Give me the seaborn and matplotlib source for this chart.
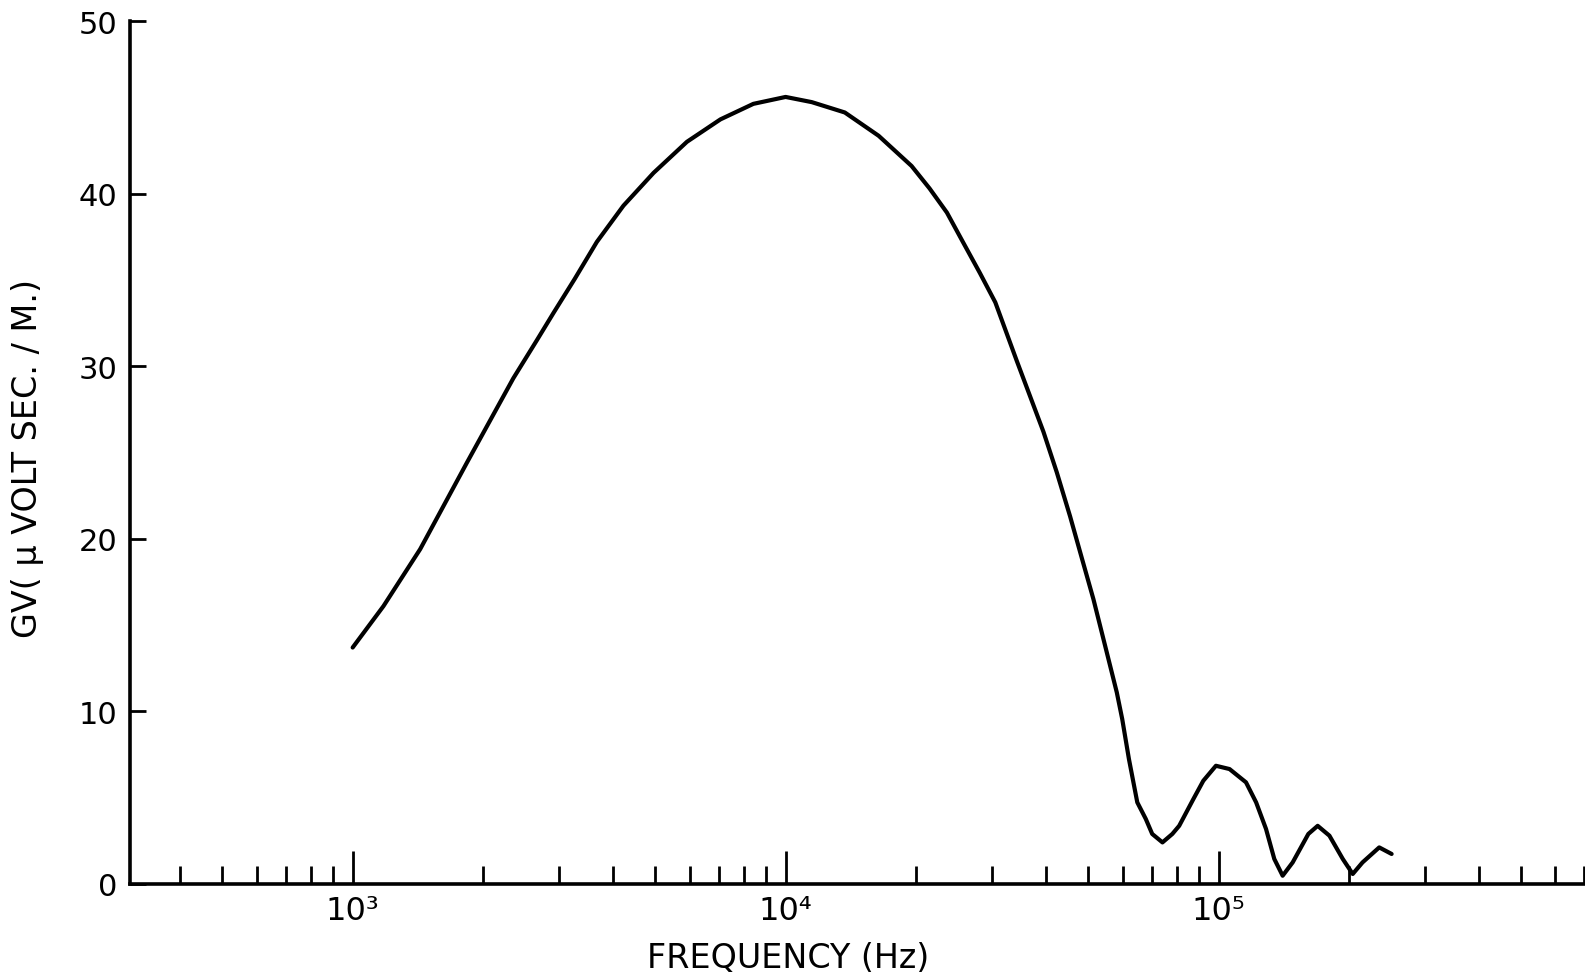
import matplotlib
matplotlib.use("Agg")
import matplotlib.pyplot as plt
import matplotlib.ticker as mticker
import seaborn as sns
import pandas as pd

# Data
frequency_hz = [1000, 1178, 1432, 1835, 2350, 2663, 2912, 3256, 3664,
                4221, 4954, 5916, 7070, 8424, 10000, 11490, 13700, 16400,
                19540, 21500, 23580, 25670, 28100, 30500, 34200, 39400,
                42300, 45400, 48300, 51400, 54700, 58200, 59900, 62080, 64900,
                67900, 70260, 74200, 78200, 81100, 87450, 92200, 98600, 106000,
                115700, 122100, 128700, 134500, 140600, 148300, 161200, 169400,
                180300, 193600, 204100, 215000, 235000, 251000]
gv_uvolt_sec_per_m = [13.7, 16.1, 19.4, 24.4, 29.3, 31.5, 33.1, 35.05, 37.2,
                      39.3, 41.2, 43.0, 44.3, 45.2, 45.6, 45.3, 44.7, 43.35,
                      41.6, 40.3, 38.9, 37.2, 35.4, 33.7, 30.3, 26.2,
                      23.85, 21.3, 18.9, 16.5, 13.8, 11.1, 9.56, 7.24, 4.73,
                      3.77, 2.9, 2.41, 2.9, 3.37, 4.92, 5.98, 6.85, 6.66,
                      5.89, 4.73, 3.19, 1.45, 0.48, 1.25, 2.9, 3.37,
                      2.8, 1.45, 0.58, 1.25, 2.12, 1.74]

x_major_ticks = [1e3, 1e4, 1e5]
x_major_labels = ["10³", "10⁴", "10⁵"]
y_ticks = [0, 10, 20, 30, 40, 50]
y_tick_labels = ["0", "10", "20", "30", "40", "50"]

df = pd.DataFrame({"freq": frequency_hz, "gv": gv_uvolt_sec_per_m})

sns.set_style("ticks")
plt.rcParams["font.family"] = ["DejaVu Sans"]

fig = plt.figure(figsize=(15.85, 9.78), dpi=100)
ax = fig.add_axes([130 / 1585, 1 - 885 / 978, 1 - 130 / 1585, (885 - 22) / 978])

sns.lineplot(data=df, x="freq", y="gv", color="black", linewidth=3.0, ax=ax,
             estimator=None)
for ln in ax.lines:
    ln.set_solid_joinstyle("round")
    ln.set_solid_capstyle("round")

ax.set_xscale("log")
ax.set_xlim(306, 7.02e5)
ax.set_ylim(0, 50)

for s in ["top", "right"]:
    ax.spines[s].set_visible(False)
for s in ["left", "bottom"]:
    ax.spines[s].set_linewidth(2.6)
    ax.spines[s].set_color("black")

ax.xaxis.set_major_locator(mticker.FixedLocator(x_major_ticks))
ax.xaxis.set_major_formatter(mticker.FixedFormatter(x_major_labels))
ax.xaxis.set_minor_locator(mticker.LogLocator(base=10, subs=[2, 3, 4, 5, 6, 7, 8, 9], numticks=20))
ax.xaxis.set_minor_formatter(mticker.NullFormatter())

ax.set_yticks(y_ticks)
ax.set_yticklabels(y_tick_labels)

ax.tick_params(axis="x", which="major", direction="in", length=24, width=2.0,
               pad=8, labelsize=23, colors="black")
ax.tick_params(axis="x", which="minor", direction="in", length=13, width=2.0,
               colors="black")
ax.tick_params(axis="y", which="major", direction="in", length=11.5, width=2.0,
               pad=9, labelsize=22, colors="black")

ax.set_xlabel("FREQUENCY (Hz)", fontsize=24, color="black")
ax.set_ylabel("GV( μ VOLT SEC. / M.)", fontsize=24, color="black")
ax.xaxis.set_label_coords((788 - 130) / 1455, -(942 - 885) / 863)
ax.yaxis.set_label_coords(-(130 - 44) / 1455, (885 - 459) / 863)

ax.grid(False)
fig.savefig("out.png", dpi=100)
